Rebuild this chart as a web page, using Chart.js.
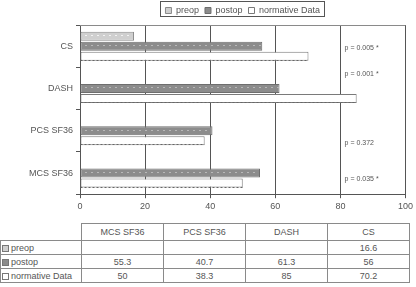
<!DOCTYPE html>
<html>
<head>
<meta charset="utf-8">
<script src="https://cdn.jsdelivr.net/npm/chart.js@4.4.1/dist/chart.umd.min.js"></script>
<style>
  body { margin: 0; background: #fff; }
  #wrap { position: relative; width: 416px; height: 287px; font-family: "Liberation Sans", Arial, sans-serif; }
  #c { position: absolute; left: 0; top: 0; }
  #tbl { position: absolute; left: 0; top: 223px; border-collapse: collapse; font-size: 9px; color: #555; }
  #tbl td { border: 1px solid #8a8a8a; height: 13px; padding: 0; text-align: center; width: 81px; }
  #tbl td.lab { text-align: left; width: 79px; padding-left: 1px; }
  #tbl tr.head td { height: 16px; }
  #tbl td.blank { border-top: none; border-left: none; }
  .sw { display: inline-block; width: 5px; height: 5px; border: 1px solid #777; margin-right: 2px; vertical-align: -1px; }
</style>
</head>
<body>
<div id="wrap">
  <canvas id="c" width="416" height="215"></canvas>
  <table id="tbl"></table>
</div>
<script>
var categorias = ['CS', 'DASH', 'PCS SF36', 'MCS SF36'];
var preop = [16.6, null, null, null];
var postop = [56, 61.3, 40.7, 55.3];
var normativa = [70.2, 85, 38.3, 50];
var pTextos = ['p = 0.005 *', 'p = 0.001 *', 'p = 0.372', 'p = 0.035 *'];
var pPos = [0.05, 0.65, 2.3, 3.14];   // posición en unidades de categoría
var ticksX = [0, 20, 40, 60, 80, 100];

var colores = ['#cfcfcf', '#8c8c8c', '#ffffff'];
var bordes = ['#8a8a8a', '#6e6e6e', '#7a7a7a'];
var nombres = ['preop', 'postop', 'normative Data'];

// puntitos en las barras y borde de abajo punteado
var puntos = {
  id: 'puntos',
  afterDatasetsDraw(chart) {
    var ctx = chart.ctx;
    ctx.save();
    chart.data.datasets.forEach(function (ds, i) {
      chart.getDatasetMeta(i).data.forEach(function (el, j) {
        if (ds.data[j] == null) return;
        var x0 = Math.min(el.base, el.x), x1 = Math.max(el.base, el.x);
        var bot = Math.round(el.y + el.height / 2);
        if (i < 2) {
          ctx.fillStyle = i == 0 ? '#f2f2f2' : '#b8b8b8';
          var yy = Math.round(el.y) - 1;
          for (var x = x0 + 4; x < x1 - 2; x += 6) ctx.fillRect(Math.round(x), yy, 2, 1);
        } else {
          ctx.strokeStyle = '#666';
          ctx.setLineDash([2, 2]);
          ctx.beginPath();
          ctx.moveTo(x0, bot - 0.5);
          ctx.lineTo(x1, bot - 0.5);
          ctx.stroke();
          ctx.setLineDash([]);
        }
      });
    });
    ctx.restore();
  }
};

var extras = {
  id: 'extras',
  afterLayout(chart) {
    // centrar la leyenda sobre el área del gráfico
    var lg = chart.legend, a = chart.chartArea;
    var s = (a.left + a.right) / 2 - (lg.left + lg.right) / 2;
    lg.left += s;
    lg.right += s;
  },
  afterDraw(chart) {
    var ctx = chart.ctx, a = chart.chartArea;
    ctx.save();
    // linea de arriba
    ctx.strokeStyle = '#8a8a8a';
    ctx.lineWidth = 1;
    ctx.beginPath();
    ctx.moveTo(a.left, Math.round(a.top) + 0.5);
    ctx.lineTo(a.right, Math.round(a.top) + 0.5);
    ctx.stroke();
    // cuadro de la leyenda
    var hb = chart.legend.legendHitBoxes;
    if (hb && hb.length) {
      var l = hb[0].left, r = hb[hb.length - 1].left + hb[hb.length - 1].width;
      ctx.strokeStyle = '#555';
      ctx.strokeRect(Math.round(l) - 4.5, 1.5, Math.round(r - l) + 9, 15);
    }
    // valores p
    ctx.fillStyle = '#555';
    ctx.font = '7px "Liberation Sans", Arial, sans-serif';
    ctx.textBaseline = 'middle';
    var xs = chart.scales.x, ys = chart.scales.y;
    pTextos.forEach(function (t, i) {
      ctx.fillText(t, xs.getPixelForValue(81.3), ys.getPixelForValue(pPos[i]));
    });
    ctx.restore();
  }
};

new Chart(document.getElementById('c'), {
  type: 'bar',
  data: {
    labels: categorias,
    datasets: [preop, postop, normativa].map(function (d, i) {
      return {
        label: nombres[i],
        data: d,
        backgroundColor: colores[i],
        borderColor: bordes[i],
        borderWidth: 1,
        borderSkipped: false,
        categoryPercentage: 0.71,
        barPercentage: 0.9
      };
    })
  },
  options: {
    indexAxis: 'y',
    responsive: false,
    animation: false,
    events: [],
    layout: { padding: { left: 0, right: 10, top: 0, bottom: 0 } },
    plugins: {
      tooltip: { enabled: false },
      legend: {
        position: 'top',
        labels: {
          boxWidth: 6, boxHeight: 6, padding: 6,
          color: '#555',
          font: { size: 9, family: '"Liberation Sans", Arial, sans-serif' }
        }
      }
    },
    scales: {
      x: {
        min: 0, max: 100,
        afterBuildTicks: function (s) { s.ticks = ticksX.map(function (v) { return { value: v }; }); },
        grid: { color: '#555', tickLength: 4, drawTicks: true },
        border: { color: '#555' },
        ticks: { color: '#555', font: { size: 9, family: '"Liberation Sans", Arial, sans-serif' }, padding: 3 }
      },
      y: {
        afterFit: function (s) { s.width = 80; },
        grid: { drawOnChartArea: false, tickLength: 4, color: '#555', offset: true },
        border: { color: '#555' },
        ticks: { color: '#555', font: { size: 9, family: '"Liberation Sans", Arial, sans-serif' }, padding: 3 }
      }
    }
  },
  plugins: [puntos, extras]
});

// tabla de datos (columnas en orden inverso)
var filas = '<tr class="head"><td class="lab blank"></td>';
for (var k = categorias.length - 1; k >= 0; k--) filas += '<td>' + categorias[k] + '</td>';
filas += '</tr>';
[preop, postop, normativa].forEach(function (d, i) {
  filas += '<tr><td class="lab"><span class="sw" style="background:' + colores[i] + '"></span>' + nombres[i] + '</td>';
  for (var k = categorias.length - 1; k >= 0; k--) filas += '<td>' + (d[k] == null ? '' : d[k]) + '</td>';
  filas += '</tr>';
});
document.getElementById('tbl').innerHTML = filas;
</script>
</body>
</html>
